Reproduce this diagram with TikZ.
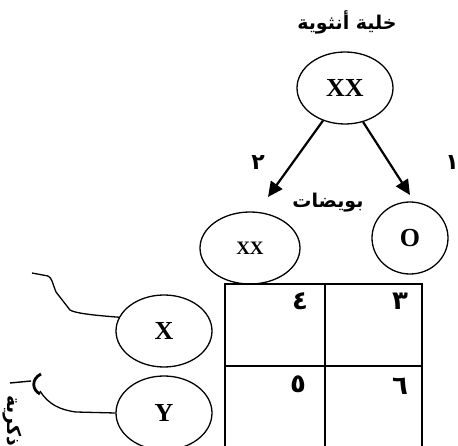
\documentclass[tikz,border=0pt]{standalone}
\usepackage{fontspec}
\setmainfont{Liberation Serif}
\newfontfamily\arabicfont[Script=Arabic]{DejaVu Sans}
\TeXXeTstate=1
\usetikzlibrary{arrows.meta,shapes.geometric}
\tikzset{
  oval/.style={draw, ellipse, line width=1.3pt, inner sep=0pt, font=\bfseries\fontsize{26}{26}\selectfont},
  arlabel/.style={font=\arabicfont\bfseries\fontsize{19}{19}\selectfont, inner sep=0pt},
  digit/.style={font=\arabicfont\bfseries\fontsize{26}{26}\selectfont, inner sep=0pt},
  smalldigit/.style={font=\arabicfont\bfseries\fontsize{22}{22}\selectfont, inner sep=0pt},
  arr/.style={line width=2.2pt, -{Triangle[length=15pt,width=14pt]}},
  wire/.style={line width=1.3pt},
  grid/.style={line width=2.5pt}
}
\begin{document}
\begin{tikzpicture}[x=1pt,y=-1pt]
\useasboundingbox (0,0) rectangle (458,446);
\fill[white] (0,0) rectangle (458,446);
\clip (0,0) rectangle (458,446);

% title
\node[arlabel] (title) at (347,22) {\beginR خلية أنثوية\endR};

% female cell
\node[oval, minimum width=96pt, minimum height=72pt] (f) at (345,88) {XX};

% eggs
\node[oval, minimum width=100pt, minimum height=72pt, font=\bfseries\fontsize{19}{19}\selectfont] (e2) at (250,248) {XX};
\node[oval, minimum width=76pt, minimum height=72pt] (e1) at (410,238) {O};

\coordinate (t2) at (268,197);
\coordinate (t1) at (410,195);
\draw[arr] (f.236) -- (t2);
\draw[arr] (f.298) -- (t1);

\node[smalldigit] (n2) at (258,163) {\beginR ٢\endR};
\node[smalldigit] (n1) at (452,163) {\beginR ١\endR};
\node[arlabel] (eggs) at (328,203) {\beginR بويضات\endR};

% sperm
\node[oval, minimum width=96pt, minimum height=72pt] (x) at (164,331) {X};
\node[oval, minimum width=96pt, minimum height=74pt] (y) at (164,413) {Y};

% table
\draw[grid] (225,284) rectangle (422,470);
\draw[grid] (325,284) -- (325,470);
\draw[grid] (225,366) -- (422,366);
\node[digit] (c4) at (300,301) {\beginR ٤\endR};
\node[digit] (c3) at (400,301) {\beginR ٣\endR};
\node[digit] (c5) at (298,384) {\beginR ٥\endR};
\node[digit] (c6) at (400,386) {\beginR ٦\endR};

% wires
\coordinate (xa) at (32,273);
\draw[wire] (x.163) .. controls (90,315) and (75,313) .. (70,310) -- (56,292) .. controls (52,282) and (52,278) .. (48,276) -- (xa);
\coordinate (ya) at (40,391);
\draw[wire] (y.west) -- (76,412) .. controls (60,410) and (48,404) .. (ya);
\draw[line width=2.8pt] (41,374) .. controls (31,379) and (32,390) .. (40,394);
\draw[line width=1.4pt] (10,383) -- (31,381);

% rotated clipped label
\node[arlabel, rotate=-90, anchor=base west] (m) at (7,395) {\beginR خلية ذكرية\endR};
\end{tikzpicture}
\end{document}
